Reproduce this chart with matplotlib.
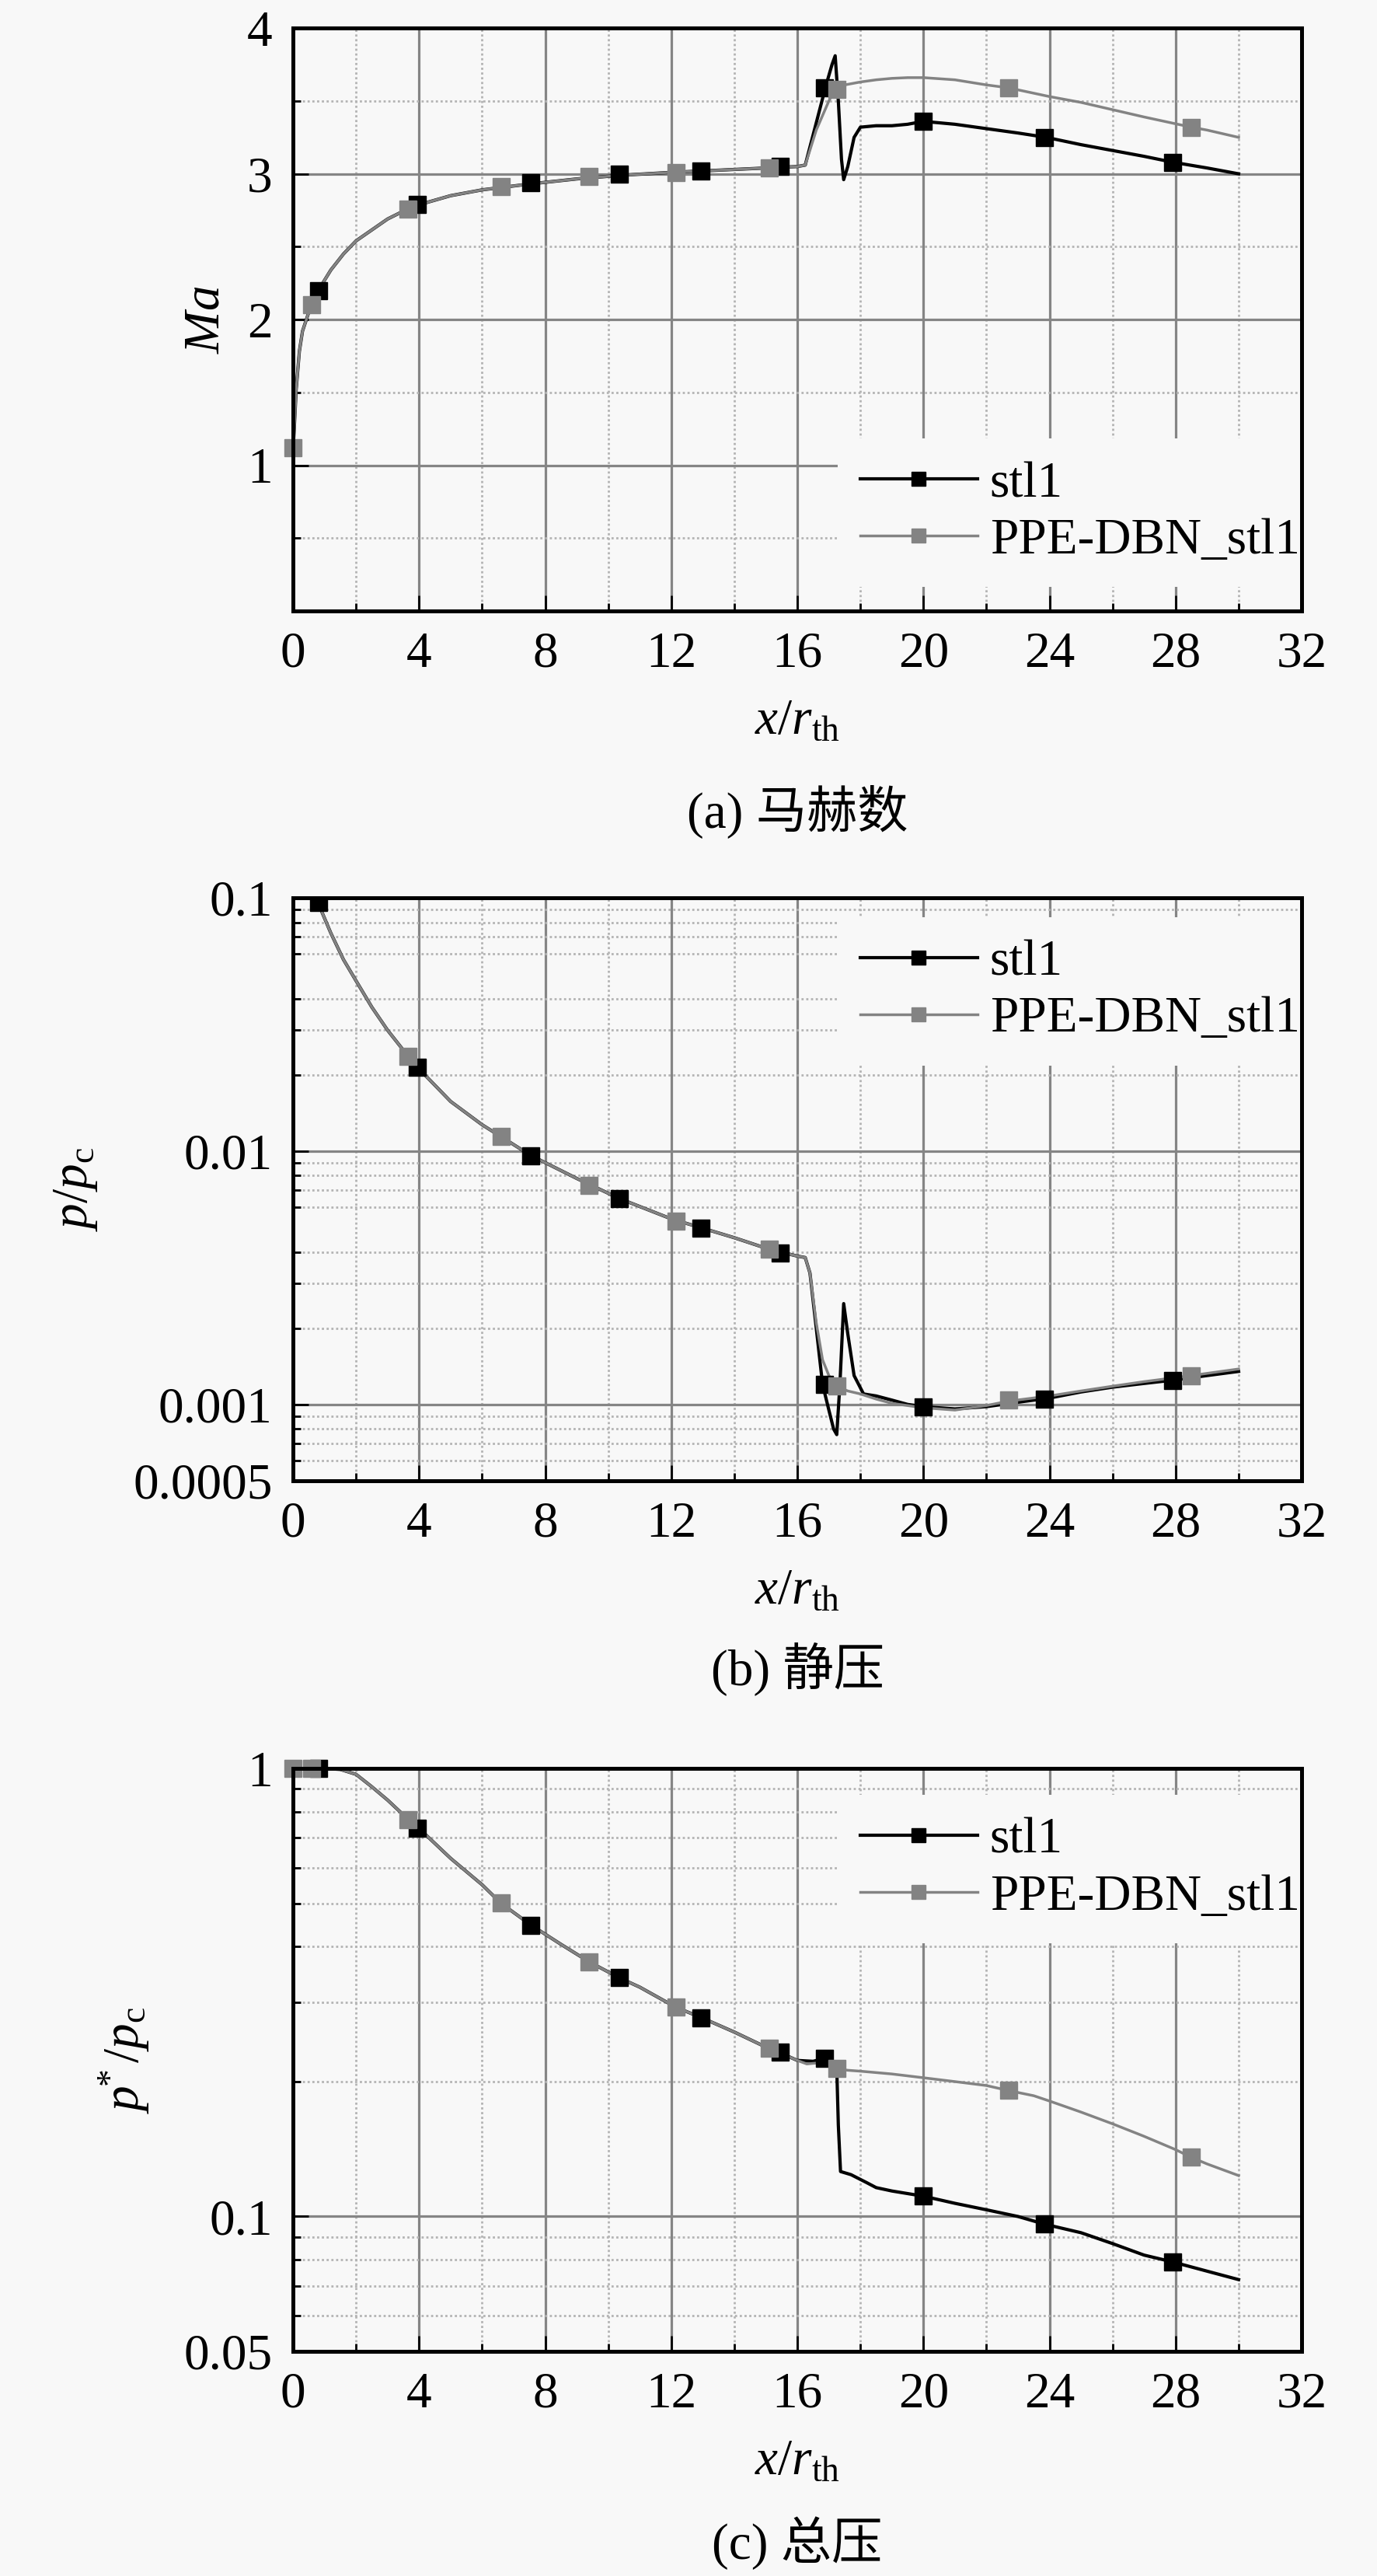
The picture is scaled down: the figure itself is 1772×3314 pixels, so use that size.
import matplotlib
matplotlib.use("Agg")
import matplotlib.pyplot as plt
from matplotlib.ticker import FixedLocator, LogLocator, NullFormatter

plt.rcParams["font.family"] = ["Liberation Serif", "Noto Sans CJK SC"]
plt.rcParams["mathtext.fontset"] = "custom"
plt.rcParams["mathtext.rm"] = "Liberation Serif"
plt.rcParams["mathtext.it"] = "Liberation Serif:italic"

# ---- data ----
series_labels = ["stl1", "PPE-DBN_stl1"]
captions = ["(a) 马赫数", "(b) 静压", "(c) 总压"]
x_ticks = [0, 4, 8, 12, 16, 20, 24, 28, 32]

# (a) Mach number
ma_stl1_x = [0, 0.05, 0.1, 0.2, 0.3, 0.5, 0.8, 1.2, 1.6, 2.0, 2.5, 3.0, 3.65, 3.95, 5.0, 6.0, 7.5,
             9.0, 10.4, 12.0, 13.0, 14.5, 16.0, 16.25, 16.6, 16.9, 17.1, 17.2, 17.3, 17.4, 17.47,
             17.6, 17.8, 18.0, 18.5, 19.0, 19.5, 20.0, 21.0, 22.0, 23.0, 23.9, 25.0, 26.0, 27.0,
             27.9, 29.0, 30.0]
ma_stl1_y = [1.1, 1.3, 1.52, 1.78, 1.92, 2.05, 2.2, 2.34, 2.45, 2.54, 2.615, 2.69, 2.76, 2.785,
             2.85, 2.89, 2.93, 2.965, 2.99, 3.01, 3.02, 3.035, 3.05, 3.06, 3.35, 3.6, 3.75, 3.81,
             3.5, 3.1, 2.96, 3.05, 3.25, 3.32, 3.33, 3.33, 3.34, 3.36, 3.34, 3.31, 3.28, 3.25,
             3.2, 3.16, 3.12, 3.08, 3.04, 3.0]
ma_ppe_x = [0, 0.05, 0.1, 0.2, 0.3, 0.5, 0.8, 1.2, 1.6, 2.0, 2.5, 3.0, 3.65, 3.95, 5.0, 6.0, 7.5,
            9.0, 10.4, 12.0, 13.0, 14.5, 16.0, 16.25, 16.6, 17.0, 17.2, 17.5, 18.0, 18.5, 19.0,
            19.5, 20.0, 21.0, 22.0, 22.7, 24.0, 25.0, 26.0, 27.0, 28.5, 29.0, 30.0]
ma_ppe_y = [1.1, 1.3, 1.52, 1.78, 1.92, 2.05, 2.2, 2.34, 2.45, 2.54, 2.615, 2.69, 2.76, 2.785,
            2.85, 2.89, 2.93, 2.965, 2.99, 3.01, 3.02, 3.035, 3.05, 3.06, 3.3, 3.5, 3.58, 3.61,
            3.63, 3.645, 3.655, 3.66, 3.66, 3.645, 3.61, 3.59, 3.53, 3.49, 3.44, 3.39, 3.32, 3.3,
            3.25]
ma_stl1_mx = [0.8, 3.95, 7.55, 10.35, 12.95, 15.45, 16.85, 20.0, 23.85, 27.9]
ma_stl1_my = [2.2, 2.79, 2.94, 3.0, 3.02, 3.05, 3.59, 3.36, 3.25, 3.08]
ma_ppe_mx = [0.0, 0.6, 3.65, 6.6, 9.4, 12.15, 15.1, 17.25, 22.7, 28.5]
ma_ppe_my = [1.12, 2.1, 2.76, 2.91, 2.98, 3.01, 3.04, 3.58, 3.59, 3.32]

# (b) static pressure
p_stl1_x = [0, 0.3, 0.6, 0.8, 1.2, 1.6, 2.0, 2.5, 3.0, 3.65, 3.95, 5.0, 6.0, 6.6, 7.55, 9.0, 10.35,
            12.0, 13.0, 14.0, 15.1, 16.0, 16.25, 16.4, 16.6, 16.8, 17.0, 17.15, 17.25, 17.35,
            17.47, 17.6, 17.8, 18.1, 18.5, 19.0, 19.5, 20.0, 21.0, 22.0, 23.0, 24.0, 25.0, 26.0,
            27.0, 28.0, 29.0, 30.0]
p_stl1_y = [0.55, 0.2, 0.115, 0.095, 0.0725, 0.057, 0.047, 0.037, 0.030, 0.0237, 0.0214, 0.0157,
            0.0127, 0.0114, 0.0096, 0.0078, 0.0065, 0.0054, 0.00496, 0.00455, 0.0041, 0.00385,
            0.0038, 0.0033, 0.002, 0.0012, 0.00095, 0.0008, 0.00076, 0.0012, 0.0025, 0.0019,
            0.0013, 0.0011, 0.00108, 0.00104, 0.001, 0.00098, 0.00096, 0.00098, 0.00102, 0.00106,
            0.00112, 0.00117, 0.00121, 0.00125, 0.0013, 0.00135]
p_ppe_x = [0, 0.3, 0.6, 0.8, 1.2, 1.6, 2.0, 2.5, 3.0, 3.65, 3.95, 5.0, 6.0, 6.6, 7.55, 9.0, 10.35,
           12.0, 13.0, 14.0, 15.1, 16.0, 16.25, 16.4, 16.6, 16.8, 17.0, 17.25, 17.6, 18.0, 18.5,
           19.0, 20.0, 21.0, 22.0, 22.7, 24.0, 25.0, 26.0, 27.0, 28.5, 30.0]
p_ppe_y = [0.55, 0.2, 0.115, 0.095, 0.0725, 0.057, 0.047, 0.037, 0.030, 0.0237, 0.0214, 0.0157,
           0.0127, 0.0114, 0.0096, 0.0078, 0.0065, 0.0054, 0.00496, 0.00455, 0.0041, 0.00385,
           0.0038, 0.0033, 0.0021, 0.0015, 0.0013, 0.00118, 0.00113, 0.0011, 0.00105, 0.00101,
           0.00097, 0.00095, 0.00099, 0.00103, 0.00108, 0.00113, 0.00118, 0.00123, 0.0013, 0.00138]
p_stl1_mx = [0.8, 3.95, 7.55, 10.35, 12.95, 15.45, 16.85, 20.0, 23.85, 27.9]
p_stl1_my = [0.096, 0.0214, 0.0096, 0.0065, 0.00496, 0.00397, 0.0012, 0.00098, 0.00105, 0.00124]
p_ppe_mx = [0.0, 0.6, 3.65, 6.6, 9.4, 12.15, 15.1, 17.25, 22.7, 28.5]
p_ppe_my = [0.55, 0.115, 0.0237, 0.0114, 0.0073, 0.0053, 0.0041, 0.00118, 0.00104, 0.0013]

# (c) total pressure
pt_stl1_x = [0, 0.6, 1.0, 1.5, 2.0, 2.5, 3.0, 3.65, 3.95, 5.0, 6.0, 6.6, 7.55, 8.5, 9.4, 10.35,
             11.0, 12.15, 12.95, 14.0, 15.1, 15.45, 16.0, 16.5, 16.85, 17.1, 17.25, 17.3, 17.37,
             17.7, 18.2, 18.5, 19.0, 20.0, 21.0, 22.0, 23.0, 23.85, 25.0, 26.0, 27.0, 27.9, 29.0,
             30.0]
pt_stl1_y = [1.0, 1.0, 1.0, 0.995, 0.97, 0.91, 0.85, 0.77, 0.74, 0.63, 0.55, 0.5, 0.447, 0.405,
             0.37, 0.341, 0.325, 0.293, 0.278, 0.258, 0.237, 0.232, 0.223, 0.222, 0.2252, 0.222,
             0.215, 0.16, 0.126, 0.124, 0.119, 0.116, 0.114, 0.111, 0.107, 0.1035, 0.1, 0.0961,
             0.092, 0.087, 0.082, 0.0792, 0.0755, 0.0723]
pt_ppe_x = [0, 0.6, 1.0, 1.5, 2.0, 2.5, 3.0, 3.65, 3.95, 5.0, 6.0, 6.6, 7.55, 8.5, 9.4, 10.35,
            11.0, 12.15, 12.95, 14.0, 15.1, 15.45, 16.0, 16.3, 16.6, 17.0, 17.25, 17.6, 18.0, 19.0,
            20.0, 21.0, 22.0, 22.7, 23.5, 24.0, 25.0, 26.0, 27.0, 28.0, 28.5, 29.0, 30.0]
pt_ppe_y = [1.0, 1.0, 1.0, 0.995, 0.97, 0.91, 0.85, 0.77, 0.74, 0.63, 0.55, 0.5, 0.447, 0.405,
            0.37, 0.341, 0.325, 0.293, 0.278, 0.258, 0.237, 0.232, 0.223, 0.219, 0.22, 0.217,
            0.2137, 0.212, 0.211, 0.208, 0.204, 0.2, 0.196, 0.191, 0.186, 0.181, 0.171, 0.161,
            0.151, 0.141, 0.1355, 0.131, 0.1234]
pt_stl1_mx = [0.8, 3.95, 7.55, 10.35, 12.95, 15.45, 16.85, 20.0, 23.85, 27.9]
pt_stl1_my = [1.0, 0.736, 0.447, 0.341, 0.278, 0.233, 0.2252, 0.111, 0.0961, 0.0792]
pt_ppe_mx = [0.0, 0.6, 3.65, 6.6, 9.4, 12.15, 15.1, 17.25, 22.7, 28.5]
pt_ppe_my = [1.0, 1.0, 0.769, 0.501, 0.37, 0.293, 0.2373, 0.2137, 0.191, 0.1355]

BG = "#f8f8f8"
BLACK = "#000000"
GRAY = "#838383"
FS = 47

fig = plt.figure(figsize=(17.72, 33.14), dpi=100, facecolor=BG)

left, width, height = 0.2128, 0.7325, 0.2263
bottoms = [0.7628, 0.4252, 0.0872]


def style_axes(ax):
    ax.set_facecolor(BG)
    for sp in ax.spines.values():
        sp.set_linewidth(3.6)
        sp.set_zorder(6)
    ax.set_xlim(0, 32)
    ax.xaxis.set_major_locator(FixedLocator(x_ticks))
    ax.xaxis.set_minor_locator(FixedLocator([2, 6, 10, 14, 18, 22, 26, 30]))
    ax.tick_params(which="both", direction="in", top=False, right=False, width=2,
                   labelsize=FS, colors="black")
    ax.tick_params(which="major", length=14.4)
    ax.tick_params(which="minor", length=7.2)
    ax.tick_params(axis="x", pad=19)
    ax.tick_params(axis="y", pad=19)
    ax.grid(which="major", color="#858585", linewidth=2.3, linestyle="-", zorder=0)
    ax.grid(which="minor", color="#b4b4b4", linewidth=2.0, linestyle=(0, (1, 1.2)), zorder=0)
    ax.set_axisbelow(True)
    ax.set_xlabel(r"$x/r_{\rm th}$", fontsize=FS)
    ax.xaxis.set_label_coords(0.5, -0.15)


def draw(ax, lx1, ly1, lx2, ly2, mx1, my1, mx2, my2, clip):
    ax.plot(lx1, ly1, color=BLACK, lw=3.0, zorder=3)
    ax.plot(lx2, ly2, color=GRAY, lw=2.5, zorder=3)
    ax.plot(mx1, my1, ls="none", marker="s", ms=16, color=BLACK, zorder=4, clip_on=clip)
    ax.plot(mx2, my2, ls="none", marker="s", ms=16, color=GRAY, zorder=4, clip_on=clip)
    h1, = ax.plot([], [], color=BLACK, lw=3.0, marker="s", ms=13)
    h2, = ax.plot([], [], color=GRAY, lw=2.5, marker="s", ms=13)
    return [h1, h2]


def add_legend(ax, handles, top):
    leg = ax.legend(handles, series_labels, loc="upper left", bbox_to_anchor=(0.54, top),
                    borderaxespad=0, fontsize=FS, frameon=True, fancybox=False,
                    facecolor=BG, edgecolor="none", framealpha=1, handlelength=2.3,
                    handletextpad=0.25, labelspacing=0.2, borderpad=0.45)
    leg.set_zorder(5)


# (a)
ax1 = fig.add_axes([left, bottoms[0], width, height])
style_axes(ax1)
hs = draw(ax1, ma_stl1_x, ma_stl1_y, ma_ppe_x, ma_ppe_y,
          ma_stl1_mx, ma_stl1_my, ma_ppe_mx, ma_ppe_my, False)
ax1.set_ylim(0, 4)
ax1.yaxis.set_major_locator(FixedLocator([1, 2, 3, 4]))
ax1.yaxis.set_minor_locator(FixedLocator([0.5, 1.5, 2.5, 3.5]))
ax1.set_ylabel(r"$Ma$", fontsize=FS)
ax1.yaxis.set_label_coords(-0.063, 0.5)
add_legend(ax1, hs, 0.296)

# (b)
ax2 = fig.add_axes([left, bottoms[1], width, height])
style_axes(ax2)
hs = draw(ax2, p_stl1_x, p_stl1_y, p_ppe_x, p_ppe_y,
          p_stl1_mx, p_stl1_my, p_ppe_mx, p_ppe_my, True)
ax2.set_yscale("log")
ax2.set_ylim(0.0005, 0.1)
ax2.yaxis.set_major_locator(FixedLocator([0.0005, 0.001, 0.01, 0.1]))
ax2.set_yticklabels(["0.0005", "0.001", "0.01", "0.1"])
ax2.yaxis.set_minor_locator(LogLocator(base=10, subs=[2, 3, 4, 6, 7, 8, 9]))
ax2.yaxis.set_minor_formatter(NullFormatter())
ax2.set_ylabel(r"$p/p_{\rm c}$", fontsize=FS)
ax2.yaxis.set_label_coords(-0.192, 0.5)
add_legend(ax2, hs, 0.967)

# (c)
ax3 = fig.add_axes([left, bottoms[2], width, height])
style_axes(ax3)
hs = draw(ax3, pt_stl1_x, pt_stl1_y, pt_ppe_x, pt_ppe_y,
          pt_stl1_mx, pt_stl1_my, pt_ppe_mx, pt_ppe_my, False)
ax3.set_yscale("log")
ax3.set_ylim(0.05, 1)
ax3.yaxis.set_major_locator(FixedLocator([0.05, 0.1, 1]))
ax3.set_yticklabels(["0.05", "0.1", "1"])
ax3.yaxis.set_minor_locator(LogLocator(base=10, subs=[2, 3, 4, 5, 6, 7, 8, 9]))
ax3.yaxis.set_minor_formatter(NullFormatter())
ax3.set_ylabel(r"$p^{\!\!*}/p_{\rm c}$", fontsize=FS)
ax3.yaxis.set_label_coords(-0.14, 0.5)
add_legend(ax3, hs, 0.955)

for ax, cap, cy in zip([ax1, ax2, ax3], captions, [-0.345, -0.324, -0.329]):
    ax.text(0.5, cy, cap, transform=ax.transAxes, ha="center", va="center", fontsize=FS)

fig.savefig("out.png", dpi=100, facecolor=BG)
